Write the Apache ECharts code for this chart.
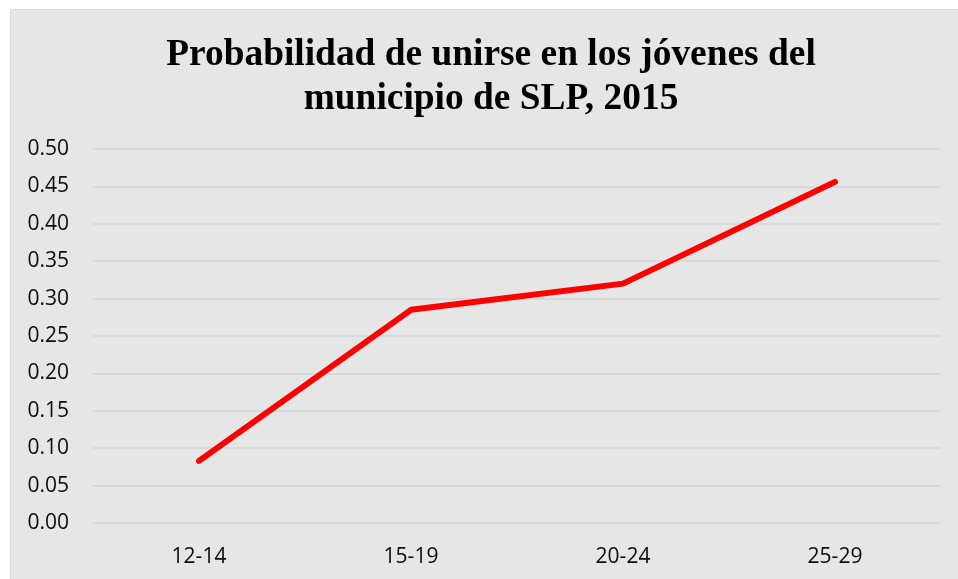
<!DOCTYPE html>
<html lang="es">
<head>
    <meta charset="UTF-8">
    <title>Probabilidad de unirse</title>
    <script src="https://cdn.jsdelivr.net/npm/echarts@6/dist/echarts.min.js"></script>
    <style>
        html, body { margin: 0; padding: 0; background: #fff; }
        #frame {
            position: absolute; left: 10px; top: 9px;
            width: 948px; height: 570px;
            border-left: 1px solid #d9d9d9; border-top: 1px solid #d9d9d9;
            background: #e6e6e6;
        }
        #chart { width: 947px; height: 569px; }
    </style>
</head>
<body>
<div id="frame"><div id="chart"></div></div>

<script type="text/javascript">
    // datos
    var grupos = ['12-14', '15-19', '20-24', '25-29'];
    var probabilidad = [0.083, 0.285, 0.320, 0.456];
    var ejeY = { min: 0, max: 0.5, paso: 0.05 };

    var myChart = echarts.init(document.getElementById('chart'));

    var option = {
        backgroundColor: '#e6e6e6',
        title: {
            text: 'Probabilidad de unirse en los jóvenes del\nmunicipio de SLP, 2015',
            left: 475,
            textAlign: 'center',
            top: 18,
            textStyle: {
                fontFamily: 'Liberation Serif',
                fontWeight: 'bold',
                fontSize: 37.4,
                lineHeight: 44,
                color: '#000'
            }
        },
        grid: {
            left: 82,
            right: 17,
            top: 139,
            bottom: 56
        },
        xAxis: {
            type: 'category',
            data: grupos,
            boundaryGap: true,
            axisLine: { show: false },
            axisTick: { show: false },
            axisLabel: {
                margin: 24,
                fontFamily: 'Open Sans',
                fontSize: 21,
                color: '#0d0d0d'
            }
        },
        yAxis: {
            type: 'value',
            min: ejeY.min,
            max: ejeY.max,
            interval: ejeY.paso,
            axisLine: { show: false },
            axisTick: { show: false },
            splitLine: { lineStyle: { color: '#d9d9d9', width: 2 } },
            axisLabel: {
                margin: 24,
                fontFamily: 'Open Sans',
                fontSize: 21,
                color: '#0d0d0d',
                formatter: function (v) { return v.toFixed(2); }
            }
        },
        series: [
            {
                type: 'line',
                data: probabilidad,
                symbol: 'none',
                lineStyle: { color: '#ff0000', width: 6, cap: 'round', join: 'round' }
            }
        ]
    };

    myChart.setOption(option);
</script>
</body>
</html>
